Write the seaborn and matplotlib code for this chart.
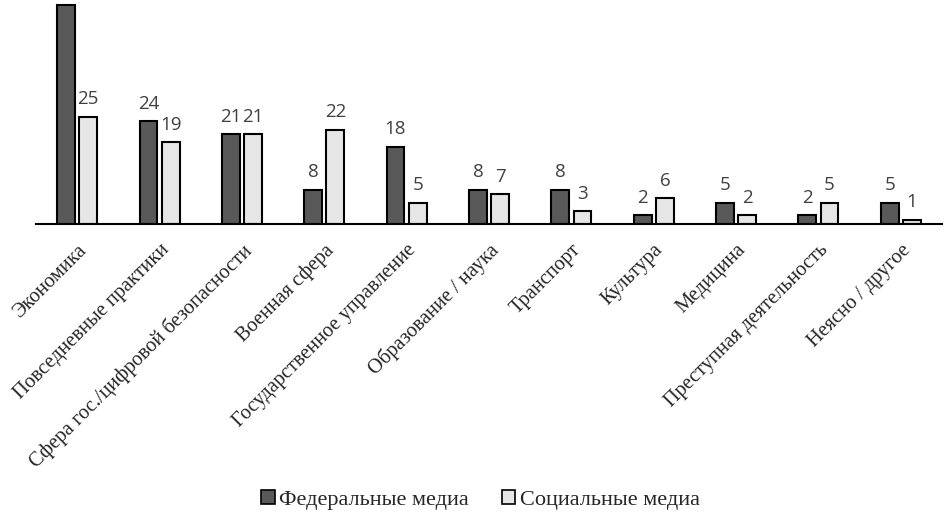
import matplotlib
matplotlib.use("Agg")
import matplotlib.pyplot as plt
import seaborn as sns
import pandas as pd
from matplotlib.patches import Patch

categories = [
    "Экономика",
    "Повседневные практики",
    "Сфера гос./цифровой безопасности",
    "Военная сфера",
    "Государственное управление",
    "Образование / наука",
    "Транспорт",
    "Культура",
    "Медицина",
    "Преступная деятельность",
    "Неясно / другое",
]
federal = [51, 24, 21, 8, 18, 8, 8, 2, 5, 2, 5]
social = [25, 19, 21, 22, 5, 7, 3, 6, 2, 5, 1]
series_names = ["Федеральные медиа", "Социальные медиа"]

df = pd.DataFrame({
    "cat": categories * 2,
    "val": federal + social,
    "series": [series_names[0]] * len(categories) + [series_names[1]] * len(categories),
})

sns.set_style("white")
plt.rcParams["font.family"] = ["Liberation Serif", "DejaVu Serif"]

fig = plt.figure(figsize=(9.46, 5.18), dpi=100)
ax = fig.add_axes([36 / 946, 1 - 224 / 518, (942 - 36) / 946, 224 / 518])

sns.barplot(
    data=df, x="cat", y="val", hue="series", order=categories,
    hue_order=series_names,
    palette={series_names[0]: "#595959", series_names[1]: "#e6e6e6"},
    width=0.54, gap=0.2, edgecolor="black", linewidth=1.5,
    ax=ax, legend=False,
)

ymax = 52.2
ax.set_ylim(0, ymax)
ax.set_xlim(-0.5, len(categories) - 0.5)
for s in ["top", "right", "left"]:
    ax.spines[s].set_visible(False)
ax.spines["bottom"].set_color("black")
ax.spines["bottom"].set_linewidth(1.5)
ax.set_yticks([])
ax.set_xlabel("")
ax.set_ylabel("")
ax.tick_params(axis="x", length=0, pad=12)
ax.set_xticks(range(len(categories)))
ax.set_xticklabels(categories, rotation=45, ha="right", rotation_mode="anchor",
                   fontsize=14.7, family=["Liberation Serif", "DejaVu Serif"])

for cont, vals in zip(ax.containers, [federal, social]):
    # the reference hides the label of a bar that reaches the top of the picture
    labels = [str(v) if v < ymax - 6 else "" for v in vals]
    ax.bar_label(cont, labels=labels, padding=6, fontsize=13.5, color="#404040",
                 family=["Open Sans", "DejaVu Sans"])

handles = [Patch(facecolor="#595959", edgecolor="black", linewidth=1.2),
           Patch(facecolor="#e6e6e6", edgecolor="black", linewidth=1.2)]
fig.legend(handles, series_names, loc="center", bbox_to_anchor=(0.508, 1 - 500 / 518),
           ncol=2, frameon=False, fontsize=16, handlelength=0.6, handleheight=0.6,
           handletextpad=0.2, columnspacing=1.5)

fig.savefig("out.png", dpi=100)
